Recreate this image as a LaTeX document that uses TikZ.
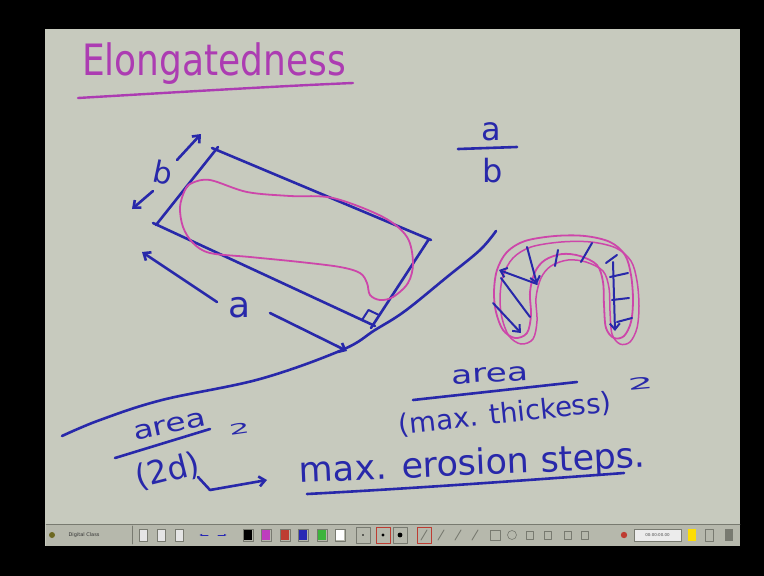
\documentclass[tikz,border=0pt]{standalone}
\usepackage{fontspec}
\setmainfont{DejaVu Sans}
\usetikzlibrary{arrows.meta}
\definecolor{board}{RGB}{199,202,190}
\definecolor{ink}{RGB}{40,40,170}
\definecolor{pinkink}{RGB}{205,70,170}
\definecolor{titleink}{RGB}{172,60,178}
\definecolor{barc}{RGB}{182,184,172}
\definecolor{tbmag}{RGB}{190,60,190}
\definecolor{tbred}{RGB}{190,60,50}
\definecolor{tbblue}{RGB}{40,40,180}
\definecolor{tbgreen}{RGB}{60,180,60}
\definecolor{tbgray}{RGB}{120,122,112}
\begin{document}
\begin{tikzpicture}[x=1pt,y=-1pt,line cap=round,line join=round,
  pen/.style={draw=ink,line width=2.6pt},
  thinpen/.style={draw=ink,line width=2pt},
  pinkpen/.style={draw=pinkink,line width=1.8pt},
  tipped/.style={-{Straight Barb[length=6pt,width=10pt]}},
  hw/.style={text=ink,inner sep=0pt,anchor=base},
  tbicon/.style={draw=tbgray,line width=0.6pt},
]
\fill[black] (0,0) rectangle (764,576);
\useasboundingbox (0,0) rectangle (764,576);
\fill[board] (45,29) rectangle (740,546);

% title
\node[text=titleink,inner sep=0pt,anchor=base west,font=\fontsize{36}{36}\selectfont] (title) at (82,75) {\scalebox{1}[1.2]{Elongatedness}};
\draw[draw=titleink,line width=2.4pt] (78,98) .. controls (180,92) and (280,86) .. (353,83);

% a/b
\node[hw,font=\fontsize{32}{32}\selectfont] (fa) at (491,140) {a};
\draw[pen] (458,149) -- (517,147);
\node[hw,font=\fontsize{32}{32}\selectfont] (fb) at (493,182) {b};

% bounding rectangle
\coordinate (TL) at (215,150);
\coordinate (R) at (429,239);
\coordinate (B) at (373,325);
\coordinate (L) at (156,225);
\draw[pen] (212,148) -- (431,240);
\draw[pen] (R) -- (371,328);
\draw[pen] (375,326) -- (153,223);
\draw[pen] (L) -- (218,147);
\draw[pen,line width=2pt] (362,320) -- (368.5,310) -- (379,315);

% object
\draw[pinkpen] plot[smooth cycle,tension=0.55] coordinates {
 (192,183) (210,180) (247,192) (290,196) (333,198) (383,217) (407,237) (413,263)
 (408,283) (393,297) (380,300) (370,295) (367,283) (360,273) (340,267) (300,262)
 (250,257) (210,253) (193,243) (183,227) (180,207) (185,190)};

% b arrows and label
\coordinate (b1s) at (177,160); \coordinate (b1e) at (201,134);
\coordinate (b2s) at (153,191); \coordinate (b2e) at (132,209);
\draw[pen,tipped] (b1s) -- (b1e);
\draw[pen,tipped] (b2s) -- (b2e);
\node[hw,font=\fontsize{30}{30}\selectfont,rotate=-12] (lb) at (161,183) {b};

% a arrows and label
\coordinate (a1s) at (217,302); \coordinate (a1e) at (142,252);
\coordinate (a2s) at (270,313); \coordinate (a2e) at (347,351);
\draw[pen,tipped] (a1s) -- (a1e);
\draw[pen,tipped] (a2s) -- (a2e);
\node[hw,font=\fontsize{36}{36}\selectfont] (la) at (240,317) {a};

% tangent line
\draw[pen] plot[smooth,tension=0.6] coordinates {(62,436) (100,420) (162,400) (260,379) (342,350) (375,330) (405,311) (447,277) (480,250) (496,231)};

% horseshoe
\draw[pinkpen] plot[smooth cycle,tension=0.55] coordinates {
 (515,338) (503,330) (496,312) (494,292) (497,270) (507,252) (525,241) (555,236)
 (585,236) (610,242) (625,255) (631,275) (633,300) (631,322) (624,336) (614,338)
 (606,328) (604,305) (603,282) (597,265) (580,256) (562,254) (545,260) (535,272)
 (530,292) (531,315) (527,333)};
\draw[pinkpen,line width=1.5pt,shift={(6,6)}] plot[smooth cycle,tension=0.55] coordinates {
 (515,338) (503,330) (496,312) (494,292) (497,270) (507,252) (525,241) (555,236)
 (585,236) (610,242) (625,255) (631,275) (633,300) (631,322) (624,336) (614,338)
 (606,328) (604,305) (603,282) (597,265) (580,256) (562,254) (545,260) (535,272)
 (530,292) (531,315) (527,333)};
\coordinate (h1) at (527,247); \coordinate (h2) at (537,284); \coordinate (h3) at (499,270);
\draw[thinpen,tipped] (h1) -- (h2);
\draw[thinpen,tipped] (h2) -- (h3);
\draw[thinpen] (501,278) -- (530,317);
\draw[thinpen,tipped] (493,303) -- (521,333);
\draw[thinpen] (558,250) -- (555,266);
\draw[thinpen] (592,243) -- (581,262);
\draw[thinpen] (617,255) -- (606,263);
\draw[thinpen] (628,273) -- (610,277);
\draw[thinpen] (629,298) -- (612,300);
\draw[thinpen] (632,318) -- (617,322);
\draw[thinpen,tipped] (613,262) -- (615,331);

% area / (max. thickess)^2
\node[hw,font=\fontsize{30}{30}\selectfont,rotate=3] (area1) at (490,382) {\scalebox{1.15}[0.85]{area}};
\draw[pen] (413,400) -- (577,382);
\node[hw,font=\fontsize{27.5}{27.5}\selectfont,rotate=6] (thick) at (506,423) {(max. thickess)};
\node[hw,font=\fontsize{20}{20}\selectfont,rotate=5] (sq1) at (641,389) {\scalebox{2}[0.8]{2}};

% area / (2d)^2
\node[hw,font=\fontsize{30}{30}\selectfont,rotate=12] (area2) at (171,433) {\scalebox{1.1}[0.85]{area}};
\draw[pen] (115,458) -- (210,429);
\node[hw,font=\fontsize{18}{18}\selectfont,rotate=8] (sq2) at (240,434) {\scalebox{1.8}[0.8]{2}};
\node[hw,font=\fontsize{32}{32}\selectfont,rotate=14] (twod) at (170,481) {(2d)};
\coordinate (c1) at (198,477); \coordinate (c2) at (210,490); \coordinate (c3) at (267,480);
\draw[pen,tipped] (c1) -- (c2) -- (c3);
\node[hw,font=\fontsize{35}{35}\selectfont,rotate=2.5] (eros) at (473,475) {max. erosion steps.};
\draw[pen] (307,494) .. controls (420,488) and (530,480) .. (624,473);

% toolbar
\fill[barc] (46,524) rectangle (740,546);
\draw[tbgray,line width=0.5pt] (46,524) -- (740,524);
\fill[olive!70!black] (52,535) circle (3);
\node[inner sep=0pt,font=\fontsize{5}{5}\selectfont,text=black!80] (dc) at (84,535) {Digital Class};
\draw[tbgray,line width=0.6pt] (132,526) -- (132,544);
\foreach \x in {143,161,179} {\draw[tbicon,fill=white!80!gray] (\x-4,529) rectangle (\x+4,541);}
\draw[tbblue,line width=1pt,-{Latex[length=3pt]}] (208,535) -- (199,535);
\draw[tbblue,line width=1pt,-{Latex[length=3pt]}] (218,535) -- (227,535);
\foreach \x/\c in {248/black,266/tbmag,285/tbred,303/tbblue,322/tbgreen,340/white}
  {\fill[\c] (\x-4,530) rectangle (\x+4,540); \draw[tbgray,line width=0.4pt] (\x-5,529) rectangle (\x+5,541);}
\foreach \x/\r in {363/0.8,383/1.6,400/2.4}
  {\draw[tbgray,line width=0.4pt] (\x-7,527) rectangle (\x+7,543); \fill[black] (\x,535) circle (\r);}
\draw[tbred,line width=0.5pt] (376,527) rectangle (390,543);
\draw[tbred,line width=0.5pt] (417,527) rectangle (431,543);
\foreach \x in {424,441,458,475} {\draw[tbgray,line width=0.9pt] (\x-3,540) -- (\x+3,530);}
\draw[tbicon] (490,530) rectangle (500,540);
\draw[tbicon] (512,535) circle (4.5);
\foreach \x in {530,548,568,585} {\draw[tbicon] (\x-4,531) rectangle (\x+3,539);}
\fill[tbred] (624,535) circle (3.2);
\draw[tbgray,line width=0.4pt,fill=white!85!gray] (634,529) rectangle (681,541);
\node[inner sep=0pt,font=\fontsize{4}{4}\selectfont,text=black!70] (tm) at (657.5,535) {00:00:00.00};
\fill[yellow!80!orange] (688,529) rectangle (696,541);
\draw[tbicon] (705,529) rectangle (713,541);
\fill[tbgray] (725,529) rectangle (733,541);
\end{tikzpicture}
\end{document}
